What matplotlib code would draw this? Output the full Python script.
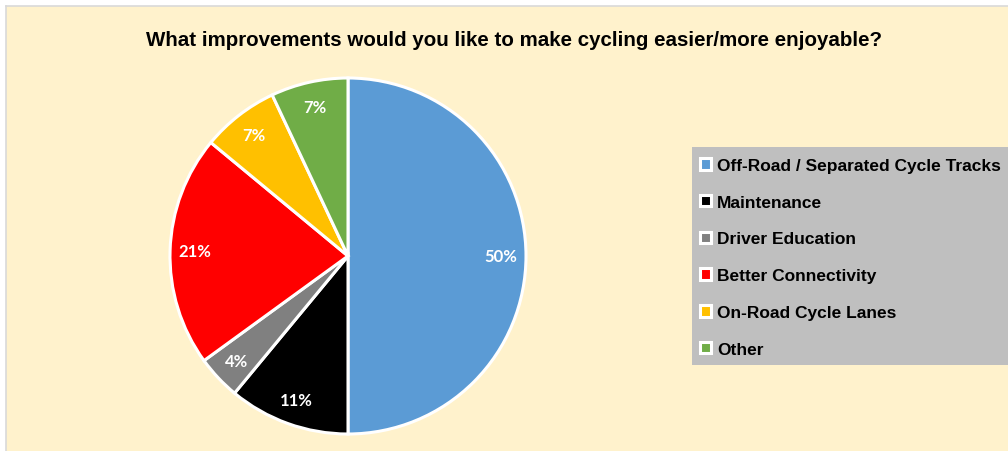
import matplotlib.pyplot as plt
from matplotlib.patches import Rectangle

# survey answers, share of respondents (%)
labels = [
    "Off-Road / Separated Cycle Tracks",
    "Maintenance",
    "Driver Education",
    "Better Connectivity",
    "On-Road Cycle Lanes",
    "Other",
]
shares = [50, 11, 4, 21, 7, 7]
colors = ["#5B9BD5", "#000000", "#808080", "#FF0000", "#FFC000", "#70AD47"]

W, H = 1008, 452
fig = plt.figure(figsize=(W / 100, H / 100), dpi=100)
fig.patch.set_facecolor("white")

# cream chart area with thin grey border
bg = fig.add_axes([6 / W, 0, 1 - 6 / W, (H - 7) / H], zorder=-2)
bg.set_facecolor("#FFF2CC")
bg.set_xticks([])
bg.set_yticks([])
for s in ["left", "top"]:
    bg.spines[s].set_color("#D9D9D9")
    bg.spines[s].set_linewidth(1.2)
for s in ["right", "bottom"]:
    bg.spines[s].set_visible(False)

title_font = ["Liberation Sans", "DejaVu Sans"]
fig.text(514 / W, 1 - 40 / H,
         "What improvements would you like to make cycling easier/more enjoyable?",
         ha="center", va="center", fontsize=14.8, fontweight="bold",
         family=title_font)

# pie: centre (348, 257), radius 178 px
cx, cy, r = 348, 257, 178
ax = fig.add_axes([(cx - r) / W, (H - cy - r) / H, 2 * r / W, 2 * r / H], zorder=2)
wedges, texts, autotexts = ax.pie(
    shares, colors=colors, startangle=90, counterclock=False,
    autopct="%d%%", pctdistance=0.86,
    wedgeprops=dict(edgecolor="white", linewidth=2.2),
    textprops=dict(color="white", fontsize=12, fontweight="bold",
                   family=["Lato", "DejaVu Sans"]))
ax.set_xlim(-1, 1)
ax.set_ylim(-1, 1)
ax.set_aspect("equal")
ax.axis("off")
for w in wedges:
    w.set_clip_on(False)

# legend panel
lx0, ly0, ly1 = 692, 148, 366
bg.add_patch(Rectangle((lx0 / W, (H - ly1) / H), 1, (ly1 - ly0) / H,
                       transform=fig.transFigure, facecolor="#BFBFBF",
                       edgecolor="none", clip_on=False))
leg = fig.legend(wedges, labels, loc="upper left",
                 bbox_to_anchor=(700 / W, 1 - 159 / H), frameon=False,
                 borderpad=0, borderaxespad=0,
                 handlelength=0.65, handleheight=0.65, handletextpad=0.35,
                 labelspacing=1.25,
                 prop=dict(family=title_font, weight="bold", size=12.5))
leg.set_zorder(3)

fig.savefig("out.png", dpi=100, facecolor=fig.get_facecolor())
